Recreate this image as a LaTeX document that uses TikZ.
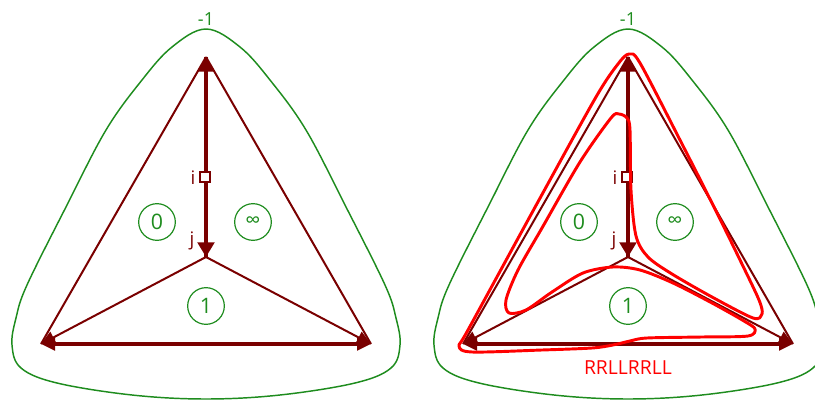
\documentclass[tikz,border=0pt]{standalone}
\usepackage{fontspec}
\setmainfont{Open Sans}
\usetikzlibrary{arrows.meta}
\definecolor{EdgeRed}{HTML}{7A0000}
\definecolor{FaceGreen}{HTML}{1E8C1E}
\definecolor{LoopRed}{HTML}{FF0000}

\begin{document}
\begin{tikzpicture}[x=0.75pt, y=-0.75pt,
    edge/.style={EdgeRed, line width=1.5pt},
    spine/.style={EdgeRed, line width=2.4pt},
    bigtip/.style={-{Triangle[length=11pt, width=12.5pt]}},
    smalltip/.style={-{Triangle[length=10.5pt, width=9.5pt]}},
    face/.style={circle, draw=FaceGreen, text=FaceGreen, line width=0.9pt,
        minimum size=27.5pt, inner sep=0pt, font=\fontsize{16}{16}\selectfont},
    lbl/.style={text=EdgeRed, font=\fontsize{14}{14}\selectfont},
    marker/.style={draw=EdgeRed, fill=white, line width=1.1pt, minimum size=7.5pt, inner sep=0pt}]

    \useasboundingbox (0,0) rectangle (815,400);
    \clip (0,0) rectangle (815,400);

    \foreach \p/\dx in {l/0, r/422} {
    \begin{scope}[shift={(\dx,0)}]
        % Drawing the outer -1 face
        \draw[FaceGreen, line width=1.1pt] plot[smooth cycle, tension=0.6] coordinates {
            (206,29) (240,47) (270,80) (306,130) (345,205) (385,285) (396,318) (400,345)
            (391,368) (355,383) (280,395) (206,399) (132,395) (57,383) (21,368) (12,345)
            (16,318) (27,285) (67,205) (106,130) (142,80) (172,47)};
        \node[text=FaceGreen, font=\fontsize{13.5}{13.5}\selectfont] (\p minus) at (206,19) {-1};

        % Vertices of the triangulation
        \coordinate (\p T) at (206,57);
        \coordinate (\p C) at (206,257);
        \coordinate (\p BL) at (41,344);
        \coordinate (\p BR) at (371,344);

        \draw[edge] (\p T) -- (\p BL);
        \draw[edge] (\p T) -- (\p BR);
        \draw[edge, smalltip] (\p C) -- (\p BL);
        \draw[edge, smalltip] (\p C) -- (\p BR);
        \draw[spine, {Triangle[length=10.5pt, width=9.5pt]}-{Triangle[length=10.5pt, width=9.5pt]}] (\p BL) -- (\p BR);
        \draw[spine, bigtip] (\p C) -- (\p T);
        \draw[spine, bigtip] (\p T) -- (\p C);

        \node[marker] (\p sq) at (205,177) {};
        \node[lbl] (\p i) at (193,178) {i};
        \node[lbl] (\p j) at (192,241) {j};

        % The three inner faces
        \node[face] (\p zero) at (157,222) {0};
        \node[face] (\p inf) at (253,222) {∞};
        \node[face] (\p one) at (206,306) {1};
    \end{scope}
    }

    % The red closed curve
    \begin{scope}[shift={(422,0)}]
        \draw[LoopRed, line width=2.2pt, line join=round] plot[smooth cycle, tension=0.5] coordinates {
            (207,54) (218,63) (258,140) (292,207) (319,262) (337,300) (340,314) (331,318)
            (290,297) (250,274) (226,257) (214,236) (209,190) (208,130) (205,118) (197,114)
            (189,118) (158,162) (120,228) (96,270) (84,300) (87,313) (104,310) (130,292)
            (161,273) (191,267) (218,270) (251,283) (290,303) (322,321) (333,329) (326,336)
            (280,337) (225,338) (208,341) (191,345) (170,348) (120,350) (50,352) (37,346)
            (46,330) (117,200) (174,97) (196,64)};
        \node[text=LoopRed, font=\fontsize{14.5}{14.5}\selectfont] (word) at (206,368) {RRLLRRLL};
    \end{scope}
\end{tikzpicture}
\end{document}
